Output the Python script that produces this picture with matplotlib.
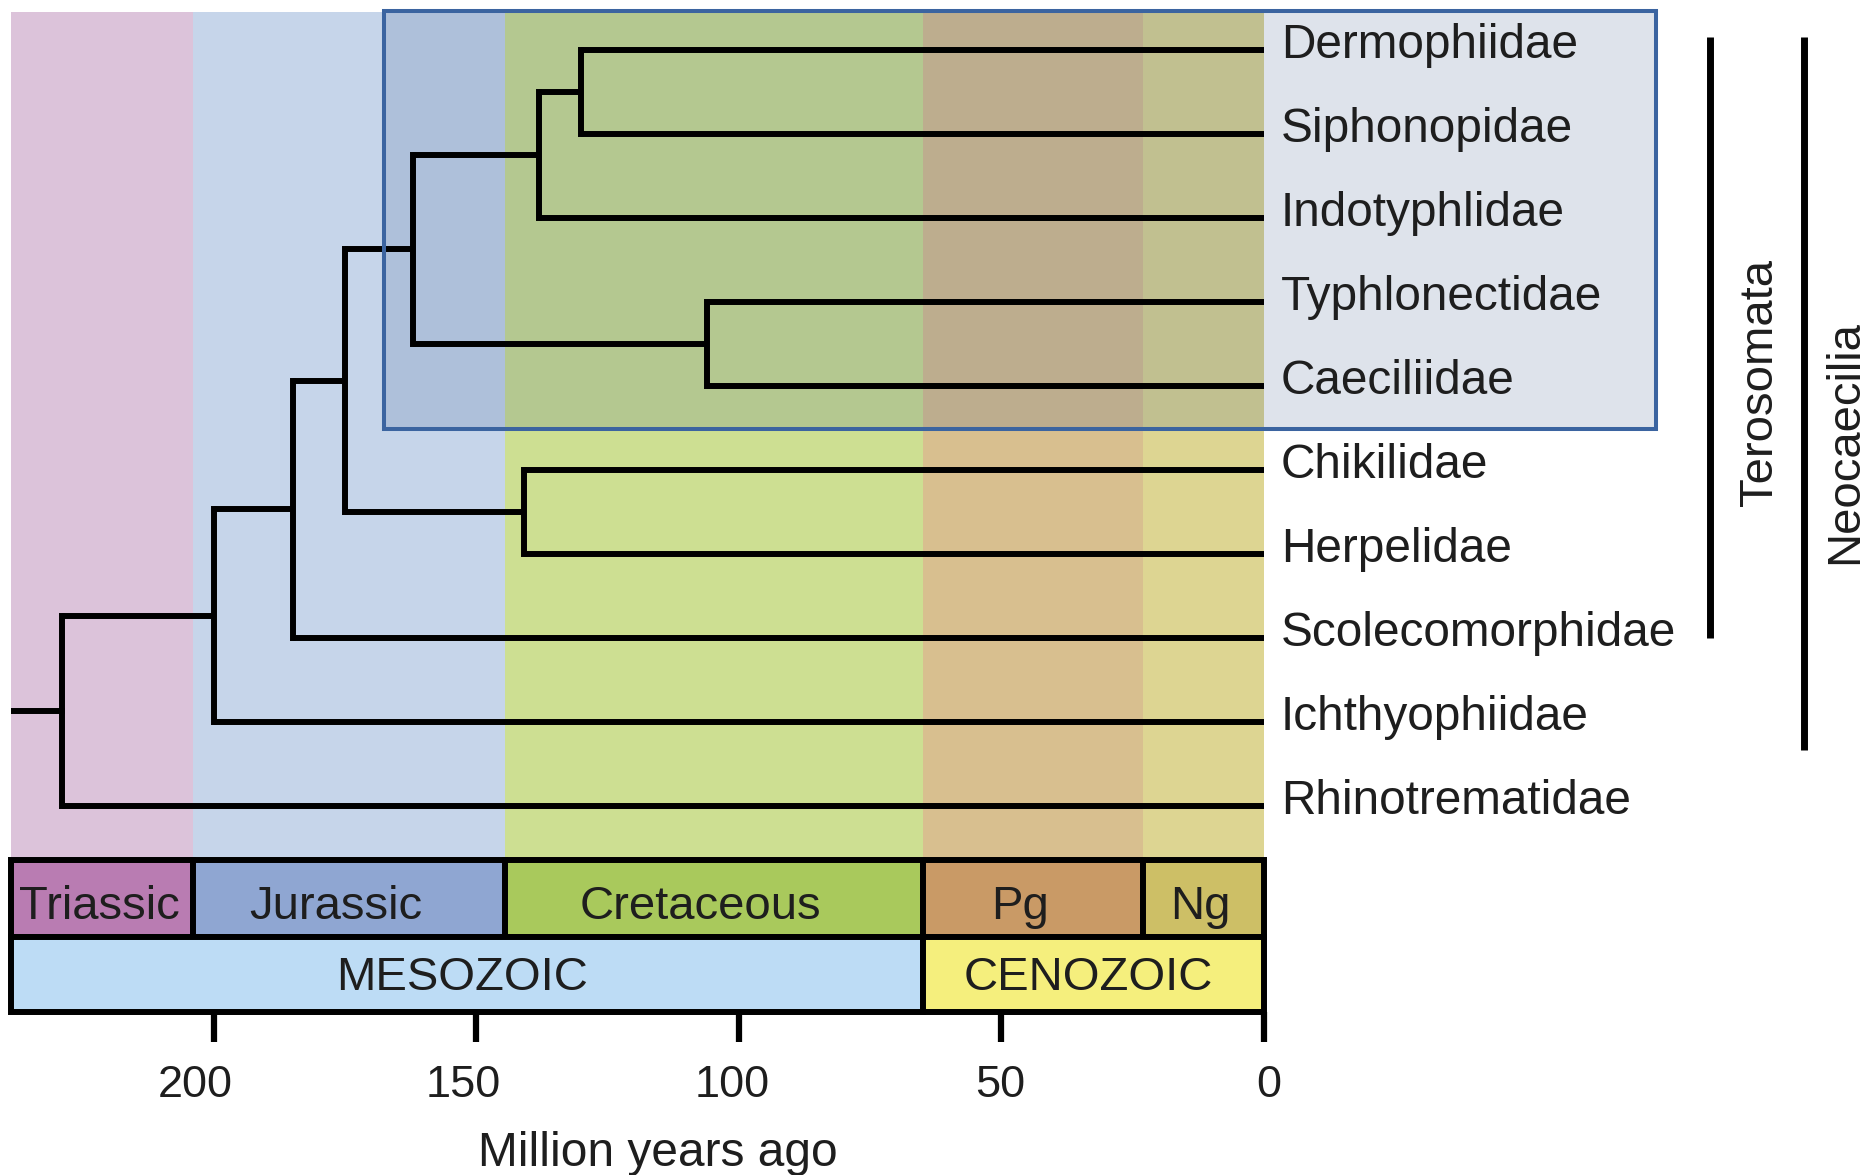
import matplotlib
matplotlib.use("Agg")
import matplotlib.pyplot as plt
from matplotlib.patches import Rectangle

plt.rcParams['font.family'] = ['Liberation Sans', 'DejaVu Sans']

# tip families, top to bottom
families = ["Dermophiidae", "Siphonopidae", "Indotyphlidae", "Typhlonectidae",
            "Caeciliidae", "Chikilidae", "Herpelidae", "Scolecomorphidae",
            "Ichthyophiidae", "Rhinotrematidae"]

# internal nodes: two children + divergence age (Ma)
node_ids = ["n1", "n2", "n3", "n4", "n5", "n6", "n7", "n8", "root"]
node_a = ["Dermophiidae", "n1", "Typhlonectidae", "n2", "Chikilidae", "n4", "n6", "n7", "n8"]
node_b = ["Siphonopidae", "Indotyphlidae", "Caeciliidae", "n3", "Herpelidae", "n5",
          "Scolecomorphidae", "Ichthyophiidae", "Rhinotrematidae"]
node_age = [130, 138, 106, 162, 141, 175, 185, 200, 229]
stem_age = 238.6

# geologic time scale
period_names = ["Triassic", "Jurassic", "Cretaceous", "Pg", "Ng"]
period_start = [238.6, 204, 144.5, 65, 23]
period_end = [204, 144.5, 65, 23, 0]
period_colors = ["#b97cb2", "#8fa6d2", "#a9c95c", "#c99a66", "#cdbf66"]
band_colors = ["#dcc3da", "#c6d5ea", "#cddf92", "#d8bf8f", "#ddd592"]

era_names = ["MESOZOIC", "CENOZOIC"]
era_start = [238.6, 65]
era_end = [65, 0]
era_colors = ["#bddcf5", "#f5ef7d"]

ticks = [200, 150, 100, 50, 0]
tick_labels = ["200", "150", "100", "50", "0"]

# clade brackets on the right
clades = ["Terosomata", "Neocaecilia"]
clade_first = ["Dermophiidae", "Dermophiidae"]
clade_last = ["Scolecomorphidae", "Ichthyophiidae"]

# highlighted clade (boxed)
boxed_first = "Dermophiidae"
boxed_last = "Caeciliidae"

txt = "#1e1e1e"

fig = plt.figure(figsize=(18.72, 11.75), dpi=100)
ax = fig.add_axes([11.4 / 1872, 163 / 1175, 1252.3 / 1872, 1001 / 1175])
ax.set_xlim(stem_age, 0)
ax.set_ylim(11.452, -0.464)
for s in ax.spines.values():
    s.set_visible(False)
ax.set_yticks([])

# positions of tips and nodes
ypos = {name: i for i, name in enumerate(families)}
xpos = {name: 0 for name in families}
for nid, a, b, age in zip(node_ids, node_a, node_b, node_age):
    ypos[nid] = (ypos[a] + ypos[b]) / 2
    xpos[nid] = age

band_top, band_bot = -0.45, 9.643
row_mid, row_bot = 10.56, 11.452

# background bands + period row
for name, st, en, pc, bc in zip(period_names, period_start, period_end, period_colors, band_colors):
    ax.add_patch(Rectangle((en, band_top), st - en, band_bot - band_top, facecolor=bc,
                           edgecolor="none", zorder=0))
    ax.add_patch(Rectangle((en, band_bot), st - en, row_mid - band_bot, facecolor=pc,
                           edgecolor="black", lw=4.3, zorder=2, clip_on=False))
    # labels sit a bit left of centre in the original
    shift = 2.5 if en > 0 and st < 230 else 0.5
    ax.text((st + en) / 2 + shift, 10.345, name, ha="center", va="baseline", fontsize=34,
            color=txt, zorder=6)

for name, st, en, c in zip(era_names, era_start, era_end, era_colors):
    ax.add_patch(Rectangle((en, row_mid), st - en, row_bot - row_mid, facecolor=c,
                           edgecolor="black", lw=4.3, zorder=2, clip_on=False))
    ax.text((st + en) / 2 + 1, 11.19, name, ha="center", va="baseline", fontsize=34,
            color=txt, zorder=6)

# highlight box
y0 = ypos[boxed_first] - 0.464
y1 = ypos[boxed_last] + 0.51
ax.add_patch(Rectangle((-74.7, y0), 167.6 + 74.7, y1 - y0, facecolor="#3c5a8c",
                       alpha=0.17, edgecolor="none", zorder=1, clip_on=False))
ax.add_patch(Rectangle((-74.7, y0), 167.6 + 74.7, y1 - y0, facecolor="none",
                       edgecolor="#3b64a0", lw=2.9, zorder=4, clip_on=False))

# tree
lw_tree = 4.3
for nid, a, b, age in zip(node_ids, node_a, node_b, node_age):
    ax.plot([age, age], [ypos[a], ypos[b]], color="black", lw=lw_tree,
            solid_capstyle="projecting", zorder=3)
    for ch in (a, b):
        ax.plot([age, xpos[ch]], [ypos[ch], ypos[ch]], color="black", lw=lw_tree,
                solid_capstyle="butt", zorder=3)
ax.plot([stem_age, xpos["root"]], [ypos["root"]] * 2, color="black", lw=lw_tree, zorder=3)

# tip labels
for name in families:
    ax.text(-3.3, ypos[name] + 0.095, name, ha="left", va="baseline", fontsize=34.4,
            color=txt, zorder=6)

# clade brackets
bar_x = [-85.1, -102.9]
lab_x = [-96.8, -113.0]
extra = [0.0, 0.33]
lab_y = [3.96, 4.67]
for name, f, l, bx, lx, ex, ly in zip(clades, clade_first, clade_last, bar_x, lab_x, extra, lab_y):
    ax.plot([bx, bx], [ypos[f] - 0.15, ypos[l] + ex], color="black", lw=5,
            solid_capstyle="butt", clip_on=False)
    ax.text(lx, ly, name, rotation=90, rotation_mode="anchor", ha="center",
            va="baseline", fontsize=34, color=txt)

# axis: tick marks from the axis, labels set by hand (slightly spread like the original)
ax.set_xticks(ticks)
ax.tick_params(axis="x", direction="out", length=21.6, width=4.5, labelbottom=False)
for t, lab in zip(ticks, tick_labels):
    ax.text(t * 1.023 - 1.0, 12.46, lab, ha="center", va="baseline", fontsize=32.5,
            color=txt, clip_on=False)
ax.text(115.5, 13.29, "Million years ago", ha="center", va="baseline", fontsize=34.5,
        color=txt, clip_on=False)

fig.savefig("out.png", dpi=100)
